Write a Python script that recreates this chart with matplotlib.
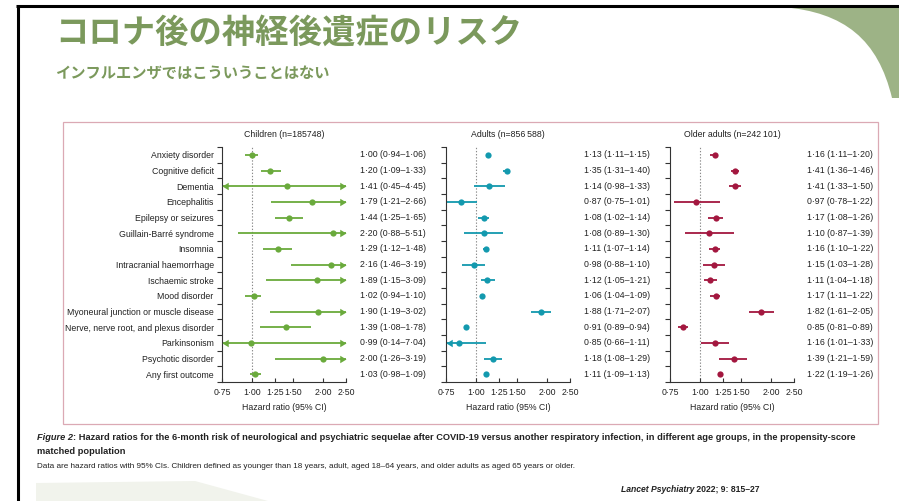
import numpy as np
import matplotlib
matplotlib.use("Agg")
import matplotlib.pyplot as plt
from matplotlib.path import Path
from matplotlib.patches import PathPatch, Polygon, Rectangle
from matplotlib.ticker import NullLocator
from matplotlib.transforms import blended_transform_factory

plt.rcParams["font.family"] = ["Liberation Sans", "DejaVu Sans"]

outcomes = ["Anxiety disorder", "Cognitive deficit", "Dementia", "Encephalitis",
            "Epilepsy or seizures", "Guillain-Barré syndrome", "Insomnia",
            "Intracranial haemorrhage", "Ischaemic stroke", "Mood disorder",
            "Myoneural junction or muscle disease",
            "Nerve, nerve root, and plexus disorder",
            "Parkinsonism", "Psychotic disorder", "Any first outcome"]

children_hr = [1.00, 1.20, 1.41, 1.79, 1.44, 2.20, 1.29, 2.16, 1.89, 1.02, 1.90, 1.39, 0.99, 2.00, 1.03]
children_lo = [0.94, 1.09, 0.45, 1.21, 1.25, 0.88, 1.12, 1.46, 1.15, 0.94, 1.19, 1.08, 0.14, 1.26, 0.98]
children_hi = [1.06, 1.33, 4.45, 2.66, 1.65, 5.51, 1.48, 3.19, 3.09, 1.10, 3.02, 1.78, 7.04, 3.19, 1.09]

adults_hr = [1.13, 1.35, 1.14, 0.87, 1.08, 1.08, 1.11, 0.98, 1.12, 1.06, 1.88, 0.91, 0.85, 1.18, 1.11]
adults_lo = [1.11, 1.31, 0.98, 0.75, 1.02, 0.89, 1.07, 0.88, 1.05, 1.04, 1.71, 0.89, 0.66, 1.08, 1.09]
adults_hi = [1.15, 1.40, 1.33, 1.01, 1.14, 1.30, 1.14, 1.10, 1.21, 1.09, 2.07, 0.94, 1.11, 1.29, 1.13]

older_hr = [1.16, 1.41, 1.41, 0.97, 1.17, 1.10, 1.16, 1.15, 1.11, 1.17, 1.82, 0.85, 1.16, 1.39, 1.22]
older_lo = [1.11, 1.36, 1.33, 0.78, 1.08, 0.87, 1.10, 1.03, 1.04, 1.11, 1.61, 0.81, 1.01, 1.21, 1.19]
older_hi = [1.20, 1.46, 1.50, 1.22, 1.26, 1.39, 1.22, 1.28, 1.18, 1.22, 2.05, 0.89, 1.33, 1.59, 1.26]

group_titles = ["Children (n=185748)", "Adults (n=856\u2009588)", "Older adults (n=242\u2009101)"]
group_colors = ["#6aaa3c", "#1399ae", "#a3173f"]
x_ticks = [0.75, 1.00, 1.25, 1.50, 2.00, 2.50]

W, H = 899, 501
GREEN = "#7b995c"
TXT = "#222222"
FS = 6.3


def fmt(v):
    return f"{v:.2f}".replace(".", "\u00b7")


def px_box(x0, y0, x1, y1):
    return [x0 / W, 1 - y1 / H, (x1 - x0) / W, (y1 - y0) / H]


fig = plt.figure(figsize=(W / 100, H / 100), dpi=100)

# slide background layer in pixel units
bg = fig.add_axes([0, 0, 1, 1], zorder=0)
bg.set_xlim(0, W)
bg.set_ylim(H, 0)
bg.axis("off")

corner = Path([(782, 7), (845, 12), (878, 40), (892, 98), (899, 98), (899, 7), (782, 7)],
              [Path.MOVETO, Path.CURVE4, Path.CURVE4, Path.CURVE4,
               Path.LINETO, Path.LINETO, Path.CLOSEPOLY])
bg.add_patch(PathPatch(corner, facecolor="#9db386", edgecolor="none"))
bg.add_patch(Polygon([(36, 501), (36, 483), (195, 481), (268, 501)],
                     closed=True, facecolor="#f1f3ec", edgecolor="none"))
bg.plot([16, 899], [6, 6], color="black", lw=2.2, solid_capstyle="butt")
bg.plot([17.5, 17.5], [5, 501], color="black", lw=2.2, solid_capstyle="butt")

bg.text(55, 33, "コロナ後の神経後遺症のリスク", family=["Noto Sans CJK JP"],
        fontsize=24, fontweight="bold", color=GREEN, va="center", ha="left")
bg.text(55, 73, "インフルエンザではこういうことはない", family=["Noto Sans CJK JP"],
        fontsize=11, fontweight="bold", color=GREEN, va="center", ha="left")

bg.add_patch(Rectangle((63, 122), 815, 302, facecolor="none", edgecolor="#dba9b4", lw=0.9))

# forest panels
rows = np.arange(len(outcomes))
lefts = [222, 446, 670]
value_x = [360, 584, 807]
panels = [(children_hr, children_lo, children_hi),
          (adults_hr, adults_lo, adults_hi),
          (older_hr, older_lo, older_hi)]
xmin, xmax = x_ticks[0], x_ticks[-1]
right_arrow = [(0, 0), (-1, 0.6), (-1, -0.6), (0, 0)]
left_arrow = [(0, 0), (1, 0.6), (1, -0.6), (0, 0)]

for k, (hr, lo, hi) in enumerate(panels):
    c = group_colors[k]
    ax = fig.add_axes(px_box(lefts[k], 147, lefts[k] + 124, 382), zorder=2)
    ax.patch.set_alpha(0)
    ax.set_xscale("log")
    ax.set_xlim(xmin, xmax)
    ax.set_ylim(len(outcomes) - 0.5, -0.5)
    ax.axvline(1.0, color="#8a8a8a", lw=0.8, ls=(0, (1.2, 1.6)), zorder=1)

    for i in rows:
        ax.plot([max(lo[i], xmin), min(hi[i], xmax)], [i, i], color=c, lw=1.3,
                solid_capstyle="butt", zorder=2)
        if lo[i] < xmin:
            ax.plot(xmin, i, marker=left_arrow, ms=9, color=c, mew=0, clip_on=False, zorder=3)
        if hi[i] > xmax:
            ax.plot(xmax, i, marker=right_arrow, ms=9, color=c, mew=0, clip_on=False, zorder=3)
    ax.plot(hr, rows, "o", ms=4.5, color=c, mew=0, zorder=4)

    trans = blended_transform_factory(fig.transFigure, ax.transData)
    for i in rows:
        ax.text(value_x[k] / W, i, f"{fmt(hr[i])} ({fmt(lo[i])}\u2013{fmt(hi[i])})",
                transform=trans, fontsize=FS, color=TXT, va="center", ha="left")

    for side in ("top", "right"):
        ax.spines[side].set_visible(False)
    for side in ("left", "bottom"):
        ax.spines[side].set_color("#333333")
        ax.spines[side].set_linewidth(0.8)

    ax.set_xticks(x_ticks)
    ax.set_xticklabels([fmt(t) for t in x_ticks])
    ax.xaxis.set_minor_locator(NullLocator())
    ax.tick_params(axis="x", direction="in", length=3, width=0.8, pad=4,
                   labelsize=FS, colors="#333333", labelcolor=TXT)

    ax.set_yticks(rows)
    ax.set_yticklabels(outcomes if k == 0 else [])
    ax.set_yticks(np.arange(-0.5, len(outcomes), 1.0), minor=True)
    ax.tick_params(axis="y", which="major", length=0, pad=6, labelsize=FS, labelcolor=TXT)
    ax.tick_params(axis="y", which="minor", direction="out", length=3.5, width=0.8,
                   color="#333333")

    ax.set_title(group_titles[k], fontsize=FS, color=TXT, pad=7)
    ax.set_xlabel("Hazard ratio (95% CI)", fontsize=FS, color=TXT, labelpad=5)

# caption and source
renderer = fig.canvas.get_renderer()
t1 = bg.text(37, 438, "Figure 2", fontsize=6.7, fontweight="bold", style="italic",
             color=TXT, va="center", ha="left")
x_after = t1.get_window_extent(renderer).x1
bg.text(x_after, 438, ": Hazard ratios for the 6-month risk of neurological and psychiatric "
        "sequelae after COVID-19 versus another respiratory infection, in different age "
        "groups, in the propensity-score", fontsize=6.7, fontweight="bold",
        color=TXT, va="center", ha="left")
bg.text(37, 452, "matched population", fontsize=6.7, fontweight="bold",
        color=TXT, va="center", ha="left")
bg.text(37, 466, "Data are hazard ratios with 95% CIs. Children defined as younger than "
        "18 years, adult, aged 18\u201364 years, and older adults as aged 65 years or older.",
        fontsize=5.9, color=TXT, va="center", ha="left")

s1 = bg.text(621, 489, "Lancet Psychiatry", fontsize=6.2, fontweight="bold", style="italic",
             color=TXT, va="center", ha="left")
x_after = s1.get_window_extent(renderer).x1
bg.text(x_after, 489, " 2022; 9: 815\u201327", fontsize=6.2, fontweight="bold",
        color=TXT, va="center", ha="left")

fig.savefig("out.png", dpi=100)
